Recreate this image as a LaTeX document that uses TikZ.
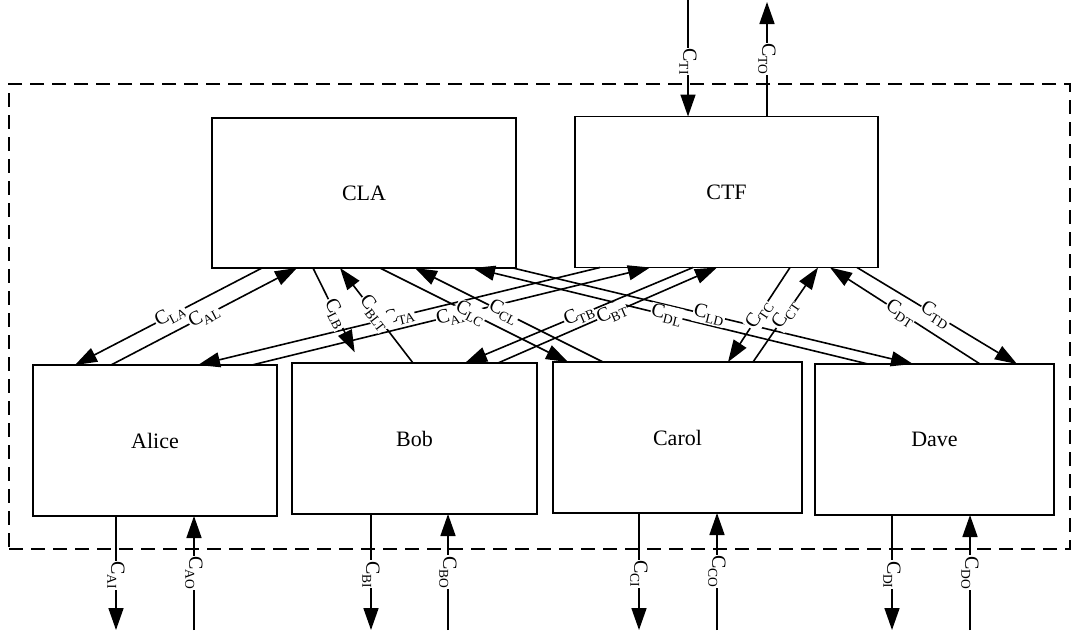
\documentclass[tikz,border=0pt]{standalone}
\usepackage{fontspec}
\setmainfont{Liberation Serif}
\usetikzlibrary{arrows.meta}
\newcommand{\cl}[1]{C\kern-0.3pt\raisebox{-4pt}{\fontsize{13.5}{14}\selectfont #1}}
\begin{document}
\begin{tikzpicture}[x=1pt,y=-1pt,
  box/.style={draw,line width=1.6pt,inner sep=0pt,outer sep=0pt,minimum height=151pt,font=\fontsize{22}{26}\selectfont},
  frame/.style={draw,line width=1.3pt,dash pattern=on 14pt off 8pt,inner sep=0pt,outer sep=0pt},
  arr/.style={line width=1.6pt,-{Triangle[length=22pt,width=15pt]}},
  lab/.style={fill=white,inner sep=0.8pt,font=\fontsize{20}{22}\selectfont},
  vlab/.style={lab,rotate=-90}]
\useasboundingbox (0,0) rectangle (1075,635);
\fill[white] (0,0) rectangle (1075,635);

\node[frame,minimum width=1061pt,minimum height=465pt] (frame) at (539.5,316.5) {};

\node[box,minimum width=304pt,minimum height=150pt] (CLA) at (364,193) {CLA};
\node[box,minimum width=303pt] (CTF) at (726.5,192) {CTF};
\node[box,minimum width=244pt] (Alice) at (155,440.5) {Alice};
\node[box,minimum width=245pt] (Bob) at (414.5,438.5) {Bob};
\node[box,minimum width=249pt] (Carol) at (677.5,437.5) {Carol};
\node[box,minimum width=239pt] (Dave) at (934.5,439.5) {Dave};

% ports on CLA
\coordinate (LAs) at ([xshift=50pt]CLA.south west);
\coordinate (ALe) at ([xshift=85pt]CLA.south west);
\coordinate (LBs) at ([xshift=101pt]CLA.south west);
\coordinate (BLe) at ([xshift=128pt]CLA.south west);
\coordinate (LCs) at ([xshift=168pt]CLA.south west);
\coordinate (CLe) at ([xshift=203pt]CLA.south west);
\coordinate (DLe) at ([xshift=261pt]CLA.south west);
\coordinate (LDs) at ([xshift=301pt]CLA.south west);
% ports on CTF
\coordinate (TAs) at ([xshift=25pt]CTF.south west);
\coordinate (ATe) at ([xshift=75pt]CTF.south west);
\coordinate (TBs) at ([xshift=118pt]CTF.south west);
\coordinate (BTe) at ([xshift=142pt]CTF.south west);
\coordinate (TCs) at ([xshift=215pt]CTF.south west);
\coordinate (CTe) at ([xshift=243pt]CTF.south west);
\coordinate (DTe) at ([xshift=255pt]CTF.south west);
\coordinate (TDs) at ([xshift=282pt]CTF.south west);
\coordinate (TIe) at ([xshift=113pt]CTF.north west);
\coordinate (TOs) at ([xshift=192pt]CTF.north west);
% ports on Alice
\coordinate (LAe) at ([xshift=42pt]Alice.north west);
\coordinate (ALs) at ([xshift=78pt]Alice.north west);
\coordinate (TAe) at ([xshift=165pt]Alice.north west);
\coordinate (ATs) at ([xshift=219pt]Alice.north west);
\coordinate (AIs) at ([xshift=83pt]Alice.south west);
\coordinate (AOe) at ([xshift=161pt]Alice.south west);
% ports on Bob
\coordinate (LBe) at ([xshift=68pt]Bob.north west);
\coordinate (BLs) at ([xshift=121pt]Bob.north west);
\coordinate (TBe) at ([xshift=173pt]Bob.north west);
\coordinate (BTs) at ([xshift=206pt]Bob.north west);
\coordinate (BIs) at ([xshift=79pt]Bob.south west);
\coordinate (BOe) at ([xshift=156pt]Bob.south west);
% ports on Carol
\coordinate (LCe) at ([xshift=15pt]Carol.north west);
\coordinate (CLs) at ([xshift=50pt]Carol.north west);
\coordinate (TCe) at ([xshift=175pt]Carol.north west);
\coordinate (CTs) at ([xshift=200pt]Carol.north west);
\coordinate (CIs) at ([xshift=86pt]Carol.south west);
\coordinate (COe) at ([xshift=164pt]Carol.south west);
% ports on Dave
\coordinate (DLs) at ([xshift=53pt]Dave.north west);
\coordinate (LDe) at ([xshift=98pt]Dave.north west);
\coordinate (DTs) at ([xshift=165pt]Dave.north west);
\coordinate (TDe) at ([xshift=202pt]Dave.north west);
\coordinate (DIs) at ([xshift=77pt]Dave.south west);
\coordinate (DOe) at ([xshift=155pt]Dave.south west);
% free ends
\coordinate (topline) at (0,0);
\coordinate (topline2) at (0,2);
\coordinate (botline) at (0,630);
\coordinate (TIs) at (TIe |- topline);
\coordinate (TOe) at (TOs |- topline2);
\coordinate (AIe) at (AIs |- botline);
\coordinate (AOs) at (AOe |- botline);
\coordinate (BIe) at (BIs |- botline);
\coordinate (BOs) at (BOe |- botline);
\coordinate (CIe) at (CIs |- botline);
\coordinate (COs) at (COe |- botline);
\coordinate (DIe) at (DIs |- botline);
\coordinate (DOs) at (DOe |- botline);

% connectors
\draw[arr] (LAs) -- (LAe);
\draw[arr] (ALs) -- (ALe);
\draw[arr,shorten >=12pt] (LBs) -- (LBe);
\draw[arr] (BLs) -- (BLe);
\draw[arr] (TAs) -- (TAe);
\draw[arr] (ATs) -- (ATe);
\draw[arr] (LCs) -- (LCe);
\draw[arr] (CLs) -- (CLe);
\draw[arr] (TBs) -- (TBe);
\draw[arr] (BTs) -- (BTe);
\draw[arr] (DLs) -- (DLe);
\draw[arr] (LDs) -- (LDe);
\draw[arr] (TCs) -- (TCe);
\draw[arr] (CTs) -- (CTe);
\draw[arr] (DTs) -- (DTe);
\draw[arr] (TDs) -- (TDe);
\draw[arr] (TIs) -- (TIe);
\draw[arr] (TOs) -- (TOe);
\draw[arr] (AIs) -- (AIe);
\draw[arr] (AOs) -- (AOe);
\draw[arr] (BIs) -- (BIe);
\draw[arr] (BOs) -- (BOe);
\draw[arr] (CIs) -- (CIe);
\draw[arr] (COs) -- (COe);
\draw[arr] (DIs) -- (DIe);
\draw[arr] (DOs) -- (DOe);

% labels
\path (LAs) -- (LAe) node[lab,sloped,pos=0.49] {\cl{LA}};
\path (ALs) -- (ALe) node[lab,sloped,pos=0.5] {\cl{AL}};
\path (LBs) -- (LBe) node[lab,sloped,pos=0.48] {\cl{LB}};
\path (TAs) -- (TAe) node[lab,sloped,pos=0.5] {\cl{TA}};
\path (BLs) -- (BLe) node[lab,sloped,pos=0.53] {\cl{BLT}};
\path (ATs) -- (ATe) node[lab,sloped,pos=0.5] {\cl{AT}};
\path (LCs) -- (LCe) node[lab,sloped,pos=0.48] {\cl{LC}};
\path (CLs) -- (CLe) node[lab,sloped,pos=0.53] {\cl{CL}};
\path (TBs) -- (TBe) node[lab,sloped,pos=0.5] {\cl{TB}};
\path (BTs) -- (BTe) node[lab,sloped,pos=0.52] {\cl{BT}};
\path (DLs) -- (DLe) node[lab,sloped,pos=0.51] {\cl{DL}};
\path (LDs) -- (LDe) node[lab,sloped,pos=0.49] {\cl{LD}};
\path (TCs) -- (TCe) node[lab,sloped,pos=0.5] {\cl{TC}};
\path (CTs) -- (CTe) node[lab,sloped,pos=0.5] {\cl{CT}};
\path (DTs) -- (DTe) node[lab,sloped,pos=0.53] {\cl{DT}};
\path (TDs) -- (TDe) node[lab,sloped,pos=0.49] {\cl{TD}};
\path (TIs) -- (TIe) node[vlab,pos=0.53] {\cl{TI}};
\path (TOs) -- (TOe) node[vlab,pos=0.5] {\cl{TO}};
\path (AIs) -- (AIe) node[vlab,pos=0.52] {\cl{AI}};
\path (AOs) -- (AOe) node[vlab,pos=0.5] {\cl{AO}};
\path (BIs) -- (BIe) node[vlab,pos=0.52] {\cl{BI}};
\path (BOs) -- (BOe) node[vlab,pos=0.5] {\cl{BO}};
\path (CIs) -- (CIe) node[vlab,pos=0.52] {\cl{CI}};
\path (COs) -- (COe) node[vlab,pos=0.5] {\cl{CO}};
\path (DIs) -- (DIe) node[vlab,pos=0.52] {\cl{DI}};
\path (DOs) -- (DOe) node[vlab,pos=0.5] {\cl{DO}};
\end{tikzpicture}
\end{document}
